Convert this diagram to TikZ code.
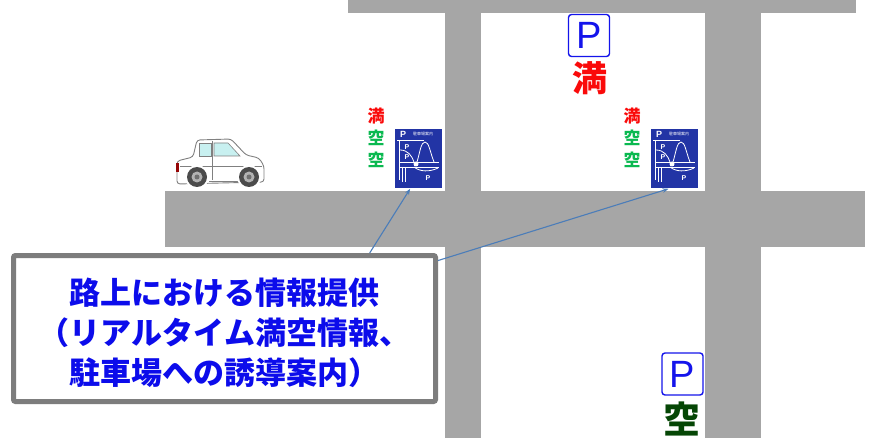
\documentclass[tikz,border=0pt]{standalone}
\usepackage{fontspec}
\setmainfont{Liberation Sans}
\newfontfamily\jp{Noto Sans CJK JP}
\usetikzlibrary{arrows.meta,calc}
\definecolor{road}{RGB}{166,166,166}
\definecolor{signblue}{RGB}{34,52,165}
\definecolor{pblue}{RGB}{20,20,235}
\definecolor{txtblue}{RGB}{12,12,235}
\definecolor{fullred}{RGB}{250,10,10}
\definecolor{vacgreen}{RGB}{10,185,80}
\definecolor{darkgreen}{RGB}{5,70,5}
\definecolor{pointer}{RGB}{75,125,185}
\definecolor{boxgray}{RGB}{125,125,125}
\definecolor{glass}{RGB}{200,240,240}
\definecolor{tyre}{RGB}{75,75,75}
\tikzset{
  roadfill/.style={fill=road},
  guidesign/.style={rectangle, fill=signblue, draw=white, line width=0.8pt,
    minimum width=48pt, minimum height=60pt, inner sep=0pt, anchor=north west},
  mapline/.style={draw=white, line width=0.8pt},
  stackchar/.style={font=\jp\bfseries\fontsize{17}{17}\selectfont, inner sep=0pt},
  parksign/.style={rectangle, draw=pblue, line width=1.4pt, rounded corners=3pt,
    fill=white, minimum width=41pt, minimum height=42pt, inner sep=0pt,
    text=pblue, font=\fontsize{38}{38}\selectfont},
  infobox/.style={rectangle, draw=boxgray, line width=5pt, rounded corners=2pt,
    fill=white, minimum width=422pt, minimum height=146pt, inner sep=0pt},
  pointerline/.style={draw=pointer, line width=1.1pt, -{Stealth[length=6pt,width=4.5pt]}},
  carbody/.style={fill=white, draw=gray, line width=0.9pt, rounded corners=3pt},
  pics/guidemap/.style={code={
    \node[text=white, font=\bfseries\fontsize{9}{9}\selectfont, inner sep=0pt] (-p) at (9,6) {P};
    \node[text=white, font=\jp\fontsize{4}{4}\selectfont, inner sep=0pt] (-t) at (29,6) {駐車場案内};
    \draw[mapline] (3,12) -- (30,12);
    \draw[mapline] (5,12) -- (5,52);
    \draw[mapline] (5,34) -- (45,34);
    \draw[mapline] (5,39) -- (45,39);
    \draw[mapline] (8,39) -- (8,54) (11,39) -- (11,54);
    \draw[mapline] (6,22) .. controls (14,22) and (18,28) .. (20,34);
    \draw[mapline] (23,34) .. controls (26,24) and (27,14) .. (31,14)
                           .. controls (35,14) and (36,24) .. (40,34);
    \draw[mapline] (20,39) .. controls (26,44) and (36,44) .. (44,40);
    \fill[white] (22,36) circle (2.5);
    \node[text=white, font=\bfseries\fontsize{7}{7}\selectfont, inner sep=0pt] (-p1) at (13,19) {P};
    \node[text=white, font=\bfseries\fontsize{7}{7}\selectfont, inner sep=0pt] (-p2) at (13,29) {P};
    \node[text=white, font=\bfseries\fontsize{7}{7}\selectfont, inner sep=0pt] (-p3) at (34,50) {P};
  }}
}
\begin{document}
\begin{tikzpicture}[x=1pt,y=-1pt]
\useasboundingbox (0,0) rectangle (877,438);
\fill[white] (0,0) rectangle (877,438);

% road network
\fill[roadfill] (348,0) rectangle (856,13);
\fill[roadfill] (445,0) rectangle (481,438);
\fill[roadfill] (705,0) rectangle (761,438);
\fill[roadfill] (165,191) rectangle (865,247);

% car on the road
\fill[carbody] (177,161) -- (193,157) -- (197,140) -- (231,139) -- (246,155)
  -- (259,158) -- (264,166) -- (264,182) -- (177,184) -- cycle;
\fill[glass, draw=gray, line width=0.6pt] (199,143) rectangle (211,156);
\fill[glass, draw=gray, line width=0.6pt] (214,143) -- (228,143) -- (240,156) -- (214,156) -- cycle;
\draw[gray, line width=0.6pt] (212,141) -- (212,180);
\draw[gray, line width=0.6pt] (180,166) -- (262,166);
\draw[gray, line width=0.6pt] (209,181) -- (238,181);
\fill[fullred!60!black] (176,163) rectangle (179,172);
\foreach \cx in {197,249}{
  \fill[white] (\cx,177) circle (12);
  \fill[tyre] (\cx,177) circle (10);
  \fill[gray!60] (\cx,177) circle (5.5);
  \fill[tyre!80] (\cx,177) circle (2.5);
}

% roadside guidance signs
\node[guidesign] (s1) at (394,128) {};
\pic (m1) at (s1.north west) {guidemap};
\node[guidesign] (s2) at (650,128) {};
\pic (m2) at (s2.north west) {guidemap};

% occupancy indicators beside the signs
\node[stackchar, text=fullred]  (a1) at (376,116) {満};
\node[stackchar, text=vacgreen] (a2) at (376,138) {空};
\node[stackchar, text=vacgreen] (a3) at (376,160) {空};
\node[stackchar, text=fullred]  (b1) at (632,116) {満};
\node[stackchar, text=vacgreen] (b2) at (632,138) {空};
\node[stackchar, text=vacgreen] (b3) at (632,160) {空};

% car parks
\node[parksign] (p1) at (589,35.5) {P};
\node[text=fullred, font=\jp\bfseries\fontsize{35}{35}\selectfont, inner sep=0pt] (full) at (590,78) {満};
\node[parksign] (p2) at (682.5,374) {P};
\node[text=darkgreen, font=\jp\bfseries\fontsize{37}{37}\selectfont, inner sep=0pt] (vac) at (682,419) {空};

% explanation box
\node[infobox] (info) at (224.5,328.5) {};
\node[align=center, text=txtblue, font=\jp\bfseries\fontsize{31}{40}\selectfont, inner sep=0pt]
  (infotext) at (224.5,333) {路上における情報提供\\（リアルタイム満空情報、\\駐車場への誘導案内）};

% pointers to the signs
\coordinate (from1) at ($(info.north west)!0.84!(info.north east)$);
\coordinate (from2) at ($(info.north east)!0.05!(info.south east)$);
\draw[pointerline] (from1) -- ($(s1.south west)!0.33!(s1.south east)$);
\draw[pointerline] (from2) -- ($(s2.south west)!0.38!(s2.south east)$);
\end{tikzpicture}
\end{document}
